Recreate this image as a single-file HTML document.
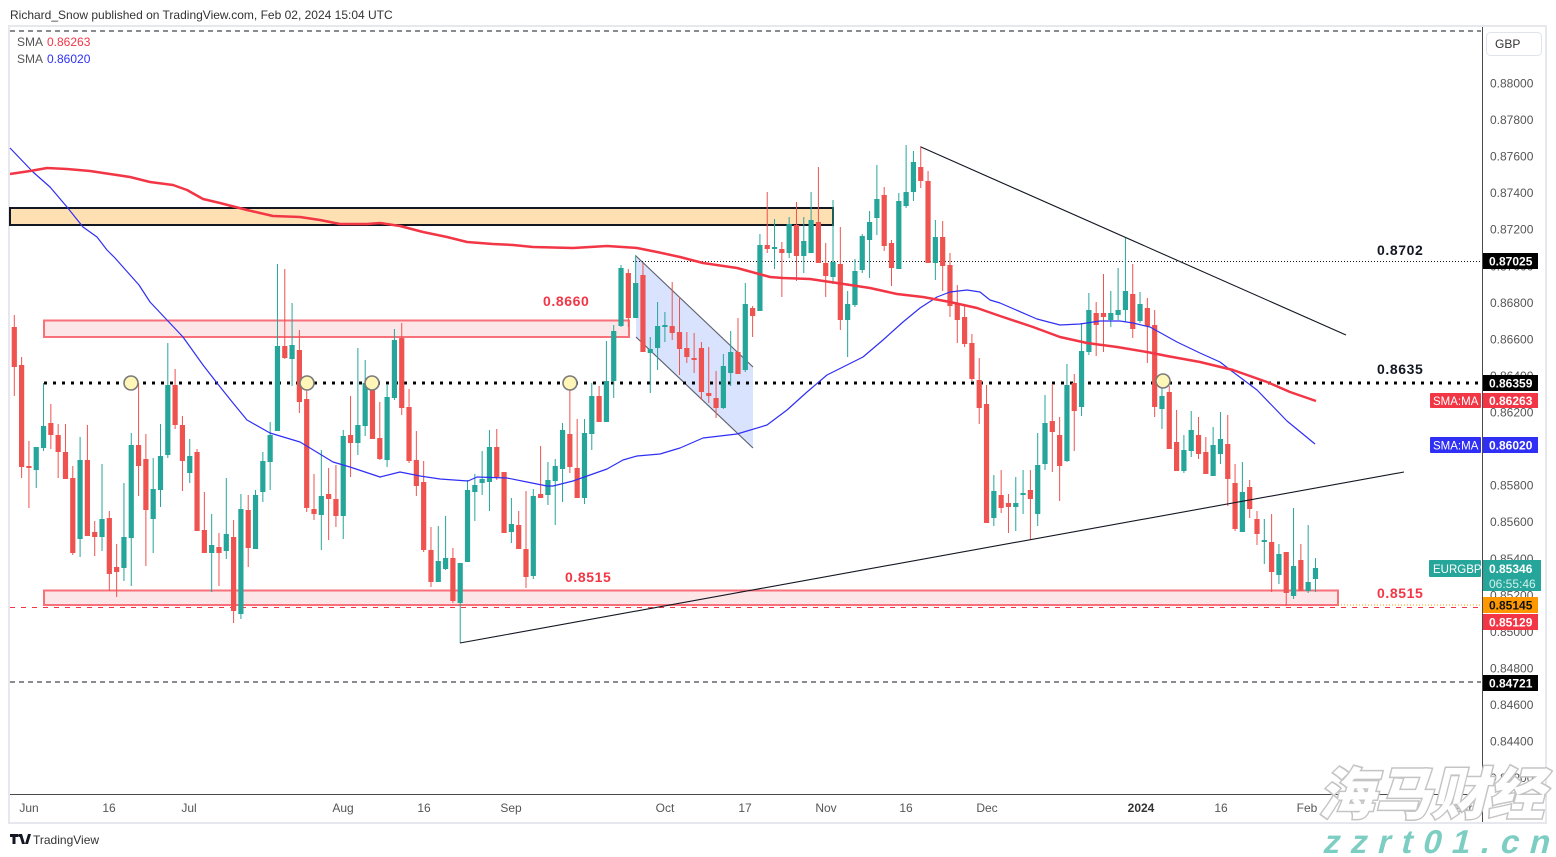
<!DOCTYPE html>
<html><head><meta charset="utf-8">
<style>
html,body{margin:0;padding:0;background:#fff;overflow:hidden;}
svg{display:block;font-family:"Liberation Sans","Noto Sans CJK SC",sans-serif;}
</style></head><body>
<svg id="s" width="1556" height="857" viewBox="0 0 1556 857" xmlns="http://www.w3.org/2000/svg">
<rect x="0" y="0" width="1556" height="857" fill="#ffffff"/>
<text x="10" y="19" font-size="12" fill="#333">Richard_Snow published on TradingView.com, Feb 02, 2024 15:04 UTC</text>
<rect x="9" y="26" width="1537" height="797" fill="#ffffff" stroke="#e6e8ee" stroke-width="2"/>

<!-- boxes -->
<rect x="10" y="208" width="823" height="17" fill="#ffe0b2" stroke="#131722" stroke-width="2"/>
<rect x="44" y="320.5" width="585" height="16.5" fill="#fde6e8" stroke="#f7707a" stroke-width="2"/>
<rect x="44" y="590.5" width="1294" height="14.5" fill="#fde6e8" stroke="#f7707a" stroke-width="2"/>

<!-- channel -->
<polygon points="636,256 753,367 753,448 636,337" fill="#d9e3fd"/>
<line x1="636" y1="256" x2="753" y2="367" stroke="#5d6270" stroke-width="1.2"/>
<line x1="636" y1="337" x2="753" y2="448" stroke="#5d6270" stroke-width="1.2"/>

<!-- horizontal lines -->
<line x1="10" y1="31" x2="1481" y2="31" stroke="#131722" stroke-width="1" stroke-dasharray="5,4"/>
<line x1="10" y1="682" x2="1481" y2="682" stroke="#131722" stroke-width="1" stroke-dasharray="5,4"/>
<line x1="10" y1="607.5" x2="1481" y2="607.5" stroke="#f23645" stroke-width="1" stroke-dasharray="5,6"/>
<line x1="1338" y1="605" x2="1481" y2="605" stroke="#ff9800" stroke-width="1" stroke-dasharray="1,2"/>
<line x1="633" y1="261.5" x2="1481" y2="261.5" stroke="#131722" stroke-width="1" stroke-dasharray="1,2"/>
<line x1="44" y1="383" x2="1481" y2="383" stroke="#000" stroke-width="3" stroke-dasharray="3,6"/>

<g id="candles"></g>
<g id="mas"></g>

<!-- trend lines -->
<line x1="921" y1="147" x2="1346" y2="335" stroke="#131722" stroke-width="1.1"/>
<line x1="460" y1="643" x2="1404" y2="472" stroke="#131722" stroke-width="1.1"/>

<!-- circles -->
<g fill="#fff6b8" stroke="#7a7a7a" stroke-width="1.6">
<circle cx="131" cy="383" r="7"/>
<circle cx="307" cy="383" r="7"/>
<circle cx="372" cy="383" r="7"/>
<circle cx="570" cy="383" r="7"/>
<circle cx="1163" cy="381" r="7"/>
</g>

<!-- drawing labels -->
<g font-size="14" font-weight="bold" letter-spacing="0.6">
<text x="543" y="306" fill="#f23645">0.8660</text>
<text x="565" y="582" fill="#f23645">0.8515</text>
<text x="1377" y="255" fill="#131722">0.8702</text>
<text x="1377" y="374" fill="#131722">0.8635</text>
<text x="1377" y="598" fill="#f23645">0.8515</text>
</g>

<!-- legend -->
<g font-size="12">
<text x="17" y="46" fill="#555">SMA</text><text x="47" y="46" fill="#f23645">0.86263</text>
<text x="17" y="63" fill="#555">SMA</text><text x="47" y="63" fill="#2f2ff5">0.86020</text>
</g>

<!-- axes -->
<line x1="10" y1="794.5" x2="1482" y2="794.5" stroke="#4a4a4a" stroke-width="1"/>
<line x1="1482.5" y1="27" x2="1482.5" y2="822" stroke="#4a4a4a" stroke-width="1"/>
<rect x="1486.5" y="32.5" width="55" height="23" rx="4" fill="#fff" stroke="#e0e3eb"/>
<text x="1495" y="48" font-size="12" fill="#333">GBP</text>

<g id="yl" font-size="12" fill="#555"></g>

<g font-size="12" fill="#555" text-anchor="middle">
<text x="29" y="812">Jun</text>
<text x="109" y="812">16</text>
<text x="189" y="812">Jul</text>
<text x="343" y="812">Aug</text>
<text x="424" y="812">16</text>
<text x="511" y="812">Sep</text>
<text x="665" y="812">Oct</text>
<text x="745" y="812">17</text>
<text x="826" y="812">Nov</text>
<text x="906" y="812">16</text>
<text x="987" y="812">Dec</text>
<text x="1141" y="812" font-weight="bold" fill="#333">2024</text>
<text x="1221" y="812">16</text>
<text x="1307" y="812">Feb</text>
<text x="1462" y="812">Mar</text>
</g>

<!-- price tags -->
<g font-size="12" font-weight="bold">
<rect x="1483" y="253" width="55" height="16" fill="#000"/><text x="1489" y="265.5" fill="#fff">0.87025</text>
<rect x="1483" y="375" width="55" height="16" fill="#000"/><text x="1489" y="387.5" fill="#fff">0.86359</text>
<rect x="1430" y="393" width="51" height="15" rx="1" fill="#f23645"/><text x="1433" y="405" fill="#fff" font-size="11.5" font-weight="normal">SMA:MA</text>
<rect x="1483" y="393" width="55" height="15" fill="#f23645"/><text x="1489" y="405" fill="#fff">0.86263</text>
<rect x="1430" y="437" width="51" height="16" rx="1" fill="#2f2ff5"/><text x="1433" y="449.5" fill="#fff" font-size="11.5" font-weight="normal">SMA:MA</text>
<rect x="1483" y="437" width="55" height="16" fill="#2f2ff5"/><text x="1489" y="449.5" fill="#fff">0.86020</text>
<rect x="1429" y="560" width="52" height="17" rx="1" fill="#26a69a"/><text x="1433" y="573" fill="#fff" font-size="11.5" font-weight="normal">EURGBP</text>
<rect x="1483" y="560" width="58" height="31" fill="#26a69a"/><text x="1489" y="573" fill="#fff">0.85346</text><text x="1489" y="588" fill="#d3f0ec" font-weight="normal">06:55:46</text>
<rect x="1483" y="597" width="55" height="16" fill="#ff9800"/><text x="1489" y="609.5" fill="#111">0.85145</text>
<rect x="1483" y="614" width="55" height="16" fill="#f23645"/><text x="1489" y="626.5" fill="#fff">0.85129</text>
<rect x="1483" y="675" width="55" height="16" fill="#000"/><text x="1489" y="687.5" fill="#fff">0.84721</text>
</g>

<!-- footer logo -->
<g fill="#131722">
<rect x="10" y="834" width="8" height="3"/><rect x="12.5" y="834" width="3" height="10"/>
<polygon points="19,834 22,834 25,844 22,844"/><circle cx="19.5" cy="835.5" r="1.5"/>
<polygon points="25,844 28,834 31,834 28,844"/>
</g>
<text x="33" y="844" font-size="12" fill="#333">TradingView</text>

<!-- watermark -->
<g transform="translate(1318,814) skewX(-14)">
<text x="0" y="0" font-family="'Noto Sans CJK SC','WenQuanYi Zen Hei',sans-serif" font-weight="900" font-size="56" fill="#ffffff" stroke="#c4c4c4" stroke-width="3" paint-order="stroke" textLength="226" lengthAdjust="spacingAndGlyphs">海马财经</text>
</g>
<g transform="translate(1322,853) skewX(-14)">
<text x="0" y="0" font-weight="900" font-size="33" fill="#7ccdc2" textLength="226" lengthAdjust="spacing">zzrt01.cn</text>
</g>
</svg>
<script>
(function(){
var D="r,327,367,315,396;r,365,467,357,478;r,466,468,441,508;g,447,470,447,488;g,426,448,383,451;r,423,435,404,449;r,435,452,424,478;r,452,479,424,479;r,478,553,466,555;g,460,539,437,557;"+
"r,460,536,425,536;r,532,537,521,556;g,519,537,464,551;r,518,574,511,591;r,567,572,544,597;g,537,568,483,581;g,445,538,433,586;r,445,466,383,496;r,459,510,434,566;g,489,519,458,553;"+
"g,456,490,424,507;g,385,455,343,458;r,385,425,369,429;r,425,461,416,491;g,456,473,439,483;r,452,531,449,531;r,530,553,492,553;g,545,553,514,592;r,547,553,533,586;g,534,551,478,559;"+
"r,537,611,520,623;g,509,614,494,619;r,510,548,495,567;g,495,549,490,549;g,461,492,452,502;g,435,462,422,490;g,346,431,264,431;r,346,358,269,359;g,345,359,303,386;r,350,402,330,413;"+
"r,399,508,383,512;r,509,514,474,520;g,496,515,450,550;r,494,499,468,540;r,499,516,465,527;g,436,516,430,539;r,435,443,396,477;g,425,443,348,455;g,383,426,360,436;r,386,439,378,439;"+
"r,438,459,402,460;g,397,460,385,467;g,340,398,329,400;r,338,408,323,415;r,407,461,389,463;r,460,486,431,496;r,482,550,461,552;r,550,582,527,587;g,561,582,526,582;g,558,569,516,570;"+
"r,558,601,548,603;g,563,603,563,643;g,490,562,480,562;g,485,492,474,521;g,479,483,451,495;g,447,482,430,511;r,447,477,429,480;r,472,533,472,533;g,524,532,498,543;r,525,549,511,549;"+
"r,549,577,491,588;g,496,576,489,579;r,494,498,446,498;g,480,495,462,505;g,466,481,459,525;g,430,469,423,502;r,434,467,383,473;r,468,498,419,498;g,433,498,419,504;g,396,434,383,450;"+
"r,396,422,386,422;g,381,422,341,422;g,331,381,325,398;g,268,326,265,327;r,273,318,269,327;g,283,318,255,318;r,275,352,263,352;g,349,353,337,393;g,326,348,302,370;g,325,327,312,342;"+
"r,326,333,282,340;r,332,349,297,375;r,348,357,332,363;r,358,360,333,373;r,348,392,342,400;r,393,396,347,403;r,398,408,371,418;g,366,408,354,409;g,352,373,331,386;r,352,374,318,374;"+
"g,304,370,283,372;r,308,316,306,337;g,245,311,234,311;r,245,249,192,253;g,247,249,219,269;r,249,253,242,297;g,224,253,217,258;r,225,256,202,281;g,241,256,217,273;g,220,253,192,253;"+
"r,222,263,167,263;r,263,276,243,297;g,262,277,200,284;r,264,320,227,330;g,304,320,291,357;g,271,305,259,307;g,236,270,234,273;g,222,240,211,278;g,199,218,165,235;r,195,246,187,251;"+
"r,243,268,240,286;g,201,269,193,269;g,192,206,145,208;g,162,192,151,201;r,167,181,146,188;r,181,263,171,263;g,237,263,220,280;r,237,266,221,291;r,265,306,253,317;r,303,320,285,343;"+
"r,317,344,305,347;r,343,379,334,381;r,380,408,358,424;r,404,523,385,523;g,491,518,475,526;r,495,508,470,513;r,503,507,494,533;g,503,507,477,531;g,493,495,470,514;r,490,499,470,540;"+
"g,465,514,433,526;g,423,464,395,470;r,421,432,384,472;r,435,466,417,501;g,385,461,364,462;r,383,411,374,451;g,351,407,323,416;g,310,352,293,355;r,313,325,302,356;r,313,317,274,352;"+
"g,313,320,291,327;g,310,315,268,320;g,291,310,238,322;r,294,329,264,338;g,304,321,292,323;r,308,326,298,363;r,325,407,310,417;g,396,409,377,429;r,392,449,386,449;r,442,471,410,471;"+
"g,450,471,435,473;g,430,451,411,457;r,435,454,417,459;r,452,474,437,474;g,445,476,427,476;g,439,454,412,464;r,444,479,415,506;r,483,529,464,531;g,492,532,462,532;r,487,509,480,518;"+
"r,519,534,511,545;g,540,542,519,564;r,542,572,514,592;g,554,575,544,584;r,552,593,552,606;g,566,596,508,599;r,560,591,544,591;g,582,591,525,593;g,568,579,558,592";
var rows=D.split(";");
var cg=document.getElementById("candles");
var html="";
for(var i=0;i<rows.length;i++){
  var p=rows[i].split(",");
  var col=p[0]=="g"?"#26a69a":"#ef5350";
  var bt=+p[1],bb=+p[2],wt=+p[3],wb=+p[4];
  var x=14.3+7.31*i;
  var h=Math.max(1.5,bb-bt);
  html+='<rect x="'+(x-0.5).toFixed(2)+'" y="'+wt+'" width="1" height="'+(wb-wt)+'" fill="'+col+'"/>';
  html+='<rect x="'+(x-2.6).toFixed(2)+'" y="'+bt+'" width="5.2" height="'+h+'" fill="'+col+'"/>';
}
cg.innerHTML=html;

var red=[[10,174],[30,171],[47,168],[67,169],[90,171],[110,174],[130,177],[150,182],[173,185],[187,190],[203,199],[220,203],[247,210],[273,216],[300,217],[320,220],[340,224],[367,224],[380,223],[400,226],[423,232],[447,237],[467,242],[493,244],[513,245],[533,247],[573,248],[607,246],[637,248],[657,252],[680,257],[703,263],[737,268],[770,277],[783,278],[810,279],[837,283],[870,288],[897,294],[923,297],[950,302],[977,308],[1000,316],[1033,327],[1060,337],[1087,343],[1117,347],[1147,352],[1167,356],[1200,362],[1233,370],[1267,382],[1290,392],[1316,401]];
var blue=[[10,148],[33,172],[50,187],[67,207],[83,227],[97,237],[107,250],[115,258],[139,285],[150,302],[167,320],[183,337],[203,365],[217,383],[233,403],[247,420],[270,433],[300,442],[310,448],[333,462],[350,467],[380,477],[400,472],[420,476],[440,479],[468,481],[477,477],[507,478],[527,482],[547,486],[553,486],[573,481],[590,475],[607,469],[623,460],[637,456],[660,454],[680,448],[703,438],[737,434],[767,425],[787,410],[807,392],[827,375],[863,357],[883,340],[903,322],[920,308],[937,297],[950,292],[967,290],[980,292],[990,300],[1000,303],[1037,319],[1060,325],[1080,324],[1100,321],[1120,321],[1133,323],[1150,327],[1177,342],[1200,353],[1220,362],[1233,372],[1257,390],[1287,421],[1315,444]];
function pts(a){return a.map(function(q){return q[0]+","+q[1];}).join(" ");}
document.getElementById("mas").innerHTML=
 '<polyline points="'+pts(blue)+'" fill="none" stroke="#2f2ff5" stroke-width="1.2" stroke-linejoin="round"/>'+
 '<polyline points="'+pts(red)+'" fill="none" stroke="#f23645" stroke-width="2.5" stroke-linejoin="round"/>';

var yl=document.getElementById("yl"),s="";
for(var k=0;k<20;k++){
  var v=0.88-0.002*k;
  var y=83+k*36.56;
  s+='<text x="1490" y="'+(y+4.5).toFixed(1)+'">'+v.toFixed(5)+'</text>';
}
yl.innerHTML=s;
})();
</script>
</body></html>
